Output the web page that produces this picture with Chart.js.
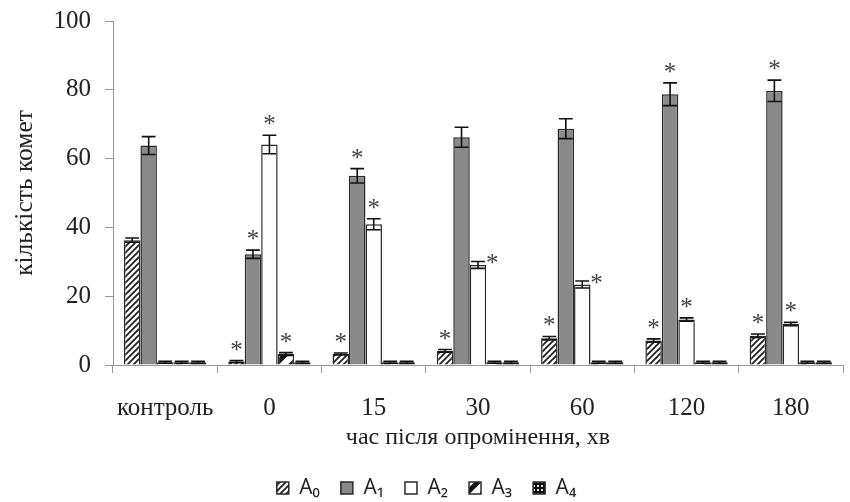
<!DOCTYPE html>
<html>
<head>
<meta charset="utf-8">
<script src="https://cdn.jsdelivr.net/npm/chart.js@4.4.0/dist/chart.umd.min.js"></script>
<style>
html,body{margin:0;padding:0;background:#fff;}
#wrap{width:850px;height:502px;}
</style>
</head>
<body>
<div id="wrap"><canvas id="comets"></canvas></div>
<script>
const categories = ['контроль', '0', '15', '30', '60', '120', '180'];
const seriesNames = ['A₀', 'A₁', 'A₂', 'A₃', 'A₄'];
const yTicks = [0, 20, 40, 60, 80, 100];

// mean values per damage class
const a0Values = [36.3, 1.0, 3.2, 4.1, 7.8, 7.1, 8.5];
const a1Values = [63.8, 32.2, 55.0, 66.2, 68.7, 78.7, 79.7];
const a2Values = [0.8, 64.1, 40.9, 29.1, 23.4, 13.2, 11.9];
const a3Values = [0.8, 3.2, 0.8, 0.8, 0.8, 0.8, 0.8];
const a4Values = [0.8, 0.8, 0.8, 0.8, 0.8, 0.8, 0.8];

// standard errors
const a0Errors = [0.6, 0.3, 0.3, 0.4, 0.5, 0.5, 0.5];
const a1Errors = [2.6, 1.2, 2.1, 2.9, 2.9, 3.3, 3.1];
const a2Errors = [0.3, 2.7, 1.6, 1.0, 1.0, 0.5, 0.5];
const a3Errors = [0.3, 0.4, 0.3, 0.3, 0.3, 0.3, 0.3];
const a4Errors = [0.3, 0.3, 0.3, 0.3, 0.3, 0.3, 0.3];

// significance marks: 1 = star above, 2 = star beside the bar
const a0Stars = [0, 1, 1, 1, 1, 1, 1];
const a1Stars = [0, 1, 1, 0, 0, 1, 1];
const a2Stars = [0, 1, 1, 2, 2, 1, 1];
const a3Stars = [0, 1, 0, 0, 0, 0, 0];
const a4Stars = [0, 0, 0, 0, 0, 0, 0];

const makePattern = (size, draw) => {
    const c = document.createElement('canvas');
    c.width = size; c.height = size;
    const g = c.getContext('2d');
    draw(g, size);
    return g.createPattern(c, 'repeat');
};

const hatch = makePattern(6, (g, s) => {
    g.fillStyle = '#fff'; g.fillRect(0, 0, s, s);
    g.strokeStyle = '#222'; g.lineWidth = 1.8;
    g.beginPath();
    g.moveTo(-1, s + 1); g.lineTo(s + 1, -1);
    g.moveTo(-1, 1); g.lineTo(1, -1);
    g.moveTo(s - 1, s + 1); g.lineTo(s + 1, s - 1);
    g.stroke();
});
const wideHatch = makePattern(16, (g, s) => {
    g.fillStyle = '#fff'; g.fillRect(0, 0, s, s);
    g.strokeStyle = '#111'; g.lineWidth = 5;
    g.beginPath();
    g.moveTo(-2, s + 2); g.lineTo(s + 2, -2);
    g.stroke();
});
const dots = makePattern(4, (g, s) => {
    g.fillStyle = '#111'; g.fillRect(0, 0, s, s);
    g.fillStyle = '#ddd'; g.fillRect(1, 1, 2, 2);
});

const mkSet = (label, data, errors, stars, fill) => ({
    label, data, errors, stars,
    backgroundColor: fill,
    borderColor: '#2a2a2a',
    borderWidth: 1.5,
    categoryPercentage: 0.79,
    barPercentage: 1.0
});

const extras = {
    id: 'extras',
    afterDatasetsDraw(chart) {
        const ctx = chart.ctx, y = chart.scales.y;
        chart.data.datasets.forEach((ds, di) => {
            const meta = chart.getDatasetMeta(di);
            meta.data.forEach((bar, i) => {
                const v = ds.data[i], e = ds.errors[i];
                const yTop = y.getPixelForValue(v + e);
                const yBot = y.getPixelForValue(Math.max(v - e, 0));
                const cap = bar.width * 0.42;
                ctx.save();
                ctx.strokeStyle = '#111';
                ctx.lineWidth = 1.6;
                ctx.beginPath();
                ctx.moveTo(bar.x, yTop); ctx.lineTo(bar.x, yBot);
                ctx.moveTo(bar.x - cap, yTop); ctx.lineTo(bar.x + cap, yTop);
                ctx.moveTo(bar.x - cap, yBot); ctx.lineTo(bar.x + cap, yBot);
                ctx.stroke();
                const s = ds.stars[i];
                if (s) {
                    ctx.fillStyle = '#444';
                    ctx.font = '25px "Liberation Serif"';
                    ctx.textAlign = 'center';
                    ctx.textBaseline = 'alphabetic';
                    if (s === 2) ctx.fillText('*', bar.x + bar.width / 2 + 6, yTop + 10);
                    else ctx.fillText('*', bar.x, yTop - 13 + 10);
                }
                ctx.restore();
            });
        });
    }
};

const serif = '"Liberation Serif", "Times New Roman", serif';

new Chart(document.getElementById('comets').getContext('2d'), {
    type: 'bar',
    data: {
        labels: categories,
        datasets: [
            mkSet(seriesNames[0], a0Values, a0Errors, a0Stars, hatch),
            mkSet(seriesNames[1], a1Values, a1Errors, a1Stars, '#8a8a8a'),
            mkSet(seriesNames[2], a2Values, a2Errors, a2Stars, '#fdfdfd'),
            mkSet(seriesNames[3], a3Values, a3Errors, a3Stars, wideHatch),
            mkSet(seriesNames[4], a4Values, a4Errors, a4Stars, dots)
        ]
    },
    options: {
        responsive: true,
        maintainAspectRatio: false,
        animation: false,
        layout: { padding: { top: 21, right: 7, left: 10, bottom: -6.5 } },
        plugins: {
            tooltip: { enabled: false },
            legend: {
                position: 'bottom',
                labels: {
                    boxWidth: 12,
                    boxHeight: 12,
                    padding: 21,
                    color: '#222',
                    font: { family: '"Open Sans", "DejaVu Sans", sans-serif', size: 21 }
                }
            }
        },
        scales: {
            x: {
                afterFit: (scale) => { scale.height = 91.5; },
                grid: { offset: true, drawOnChartArea: false, tickLength: 8, color: '#999' },
                border: { color: '#999', width: 1 },
                ticks: { color: '#222', padding: 20.5, font: { family: serif, size: 25 } },
                title: {
                    display: true,
                    text: 'час після опромінення, хв',
                    color: '#222',
                    padding: { top: 2, bottom: 4 },
                    font: { family: serif, size: 24 }
                }
            },
            y: {
                min: 0,
                max: 100,
                afterBuildTicks: (scale) => { scale.ticks = yTicks.map(v => ({ value: v })); },
                afterFit: (scale) => { scale.width = 103; scale.paddingTop = 0; scale.paddingBottom = 0; },
                grid: { drawOnChartArea: false, tickLength: 8, color: '#999' },
                border: { color: '#999', width: 1 },
                ticks: { color: '#222', padding: 14, font: { family: serif, size: 25 } },
                title: {
                    display: true,
                    text: 'кількість комет',
                    color: '#222',
                    padding: 0,
                    font: { family: serif, size: 25.5 }
                }
            }
        }
    },
    plugins: [extras]
});
</script>
</body>
</html>
